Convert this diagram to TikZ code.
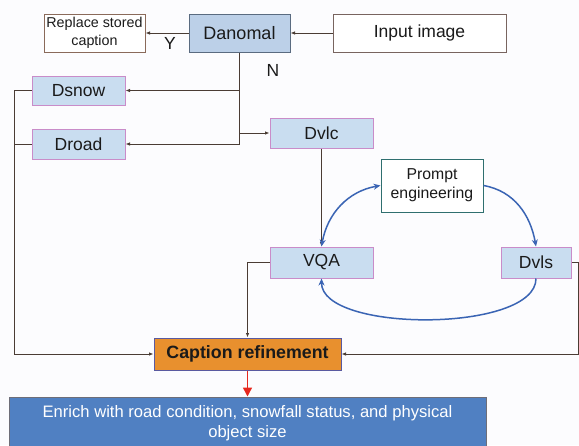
\documentclass[tikz,border=0pt]{standalone}
\usepackage{fontspec}
\setmainfont{Liberation Sans}
\usetikzlibrary{arrows.meta}
\definecolor{bg}{HTML}{FCFCFE}
\definecolor{lblue}{HTML}{C9DDF0}
\definecolor{dblue}{HTML}{BCD0E8}
\definecolor{pinkb}{HTML}{C98CC9}
\definecolor{conn}{HTML}{4A3C34}
\definecolor{arcb}{HTML}{3A64B4}
\definecolor{orng}{HTML}{E8902E}
\definecolor{enrf}{HTML}{5080C2}
\definecolor{txt}{HTML}{1A1A1A}
\definecolor{repb}{HTML}{8A6A5A}
\definecolor{danb}{HTML}{5A6B80}
\definecolor{inpb}{HTML}{78645F}
\definecolor{peb}{HTML}{2F6F6F}
\definecolor{capb}{HTML}{5A5AA0}
\definecolor{enrb}{HTML}{6E6E78}
\definecolor{redarr}{HTML}{E6281E}
\tikzset{
  lbl/.style={font=\fontsize{17.5}{20}\selectfont, text=txt, inner sep=0pt},
  dbox/.style={lbl, draw=pinkb, fill=lblue, line width=1pt},
  wbox/.style={draw, fill=white, line width=1pt, text=txt, inner sep=0pt, align=center},
  conline/.style={draw=conn, line width=1pt},
  conarrow/.style={conline, -{Latex[length=4.5pt,width=3.5pt]}},
  arc/.style={draw=arcb, line width=1.5pt},
}
\begin{document}
\begin{tikzpicture}[x=1pt,y=-1pt]
\useasboundingbox (0,0) rectangle (579,445);
\fill[bg] (0,0) rectangle (579,445);

\node[wbox, draw=repb, font=\fontsize{14.3}{18}\selectfont, minimum width=101pt, minimum height=38pt] (rep) at (94.5,33) {Replace stored\\caption};
\node[lbl, font=\fontsize{18}{20}\selectfont, draw=danb, fill=dblue, line width=1pt, minimum width=101pt, minimum height=38pt] (dan) at (239.5,33) {Danomal};
\node[wbox, draw=inpb, font=\fontsize{17.5}{20}\selectfont, minimum width=173pt, minimum height=38pt] (inp) at (419.5,33) {Input image};

\node[dbox, minimum width=93pt, minimum height=29pt] (dsnow) at (78.5,90.5) {Dsnow};
\node[dbox, minimum width=93pt, minimum height=30pt] (droad) at (78.5,144) {Droad};
\node[dbox, minimum width=103pt, minimum height=30pt] (dvlc) at (321.5,133) {Dvlc};
\node[wbox, draw=peb, font=\fontsize{15.8}{19}\selectfont, minimum width=102pt, minimum height=53pt] (pe) at (432,185.5) {Prompt\\engineering};
\node[dbox, minimum width=103pt, minimum height=31pt] (vqa) at (321.5,262.5) {VQA};
\node[dbox, minimum width=70pt, minimum height=31pt] (dvls) at (536,262.5) {Dvls};
\node[lbl, font=\fontsize{17.8}{20}\selectfont\bfseries, draw=capb, fill=orng, line width=1pt, minimum width=187pt, minimum height=32pt] (cap) at (247.5,354) {Caption refinement};
\node[draw=enrb, fill=enrf, line width=1pt, text=white, align=center, font=\fontsize{16.6}{20.5}\selectfont, minimum width=477pt, minimum height=52pt, inner sep=0pt] (enr) at (247.5,423) {Enrich with road condition, snowfall status, and physical\\object size};

\node[lbl] (ylab) at (170,43) {Y};
\node[lbl] (nlab) at (273,70) {N};

\coordinate (j1) at (239.5,90.5);
\coordinate (j2) at (239.5,133);
\coordinate (j3) at (239.5,144);
\coordinate (l1) at (14,90.5);
\coordinate (l3) at (14,354);
\coordinate (r1) at (578.5,262.5);
\coordinate (r3) at (578.5,354);

\draw[conarrow] (inp.west) -- (dan.east);
\draw[conarrow] (dan.west) -- (rep.east);
\draw[conline] (dan.south) -- (j3);
\draw[conarrow] (j1) -- (dsnow.east);
\draw[conarrow] (j3) -- (droad.east);
\draw[conarrow] (j2) -- (dvlc.west);
\draw[conline] (dsnow.west) -- (l1) -- (l3);
\draw[conline] (droad.west) -- (droad.west -| l1);
\draw[conarrow] (l3) -- (cap.west);
\draw[conarrow] (dvlc.south) -- (vqa.north);
\draw[conarrow] (vqa.west) -| (cap.north);
\draw[conline] (dvls.east) -- (r1) -- (r3);
\draw[conarrow] (r3) -- (cap.east);
\draw[draw=redarr, line width=1.4pt, -{Triangle[length=9pt,width=9pt]}] (cap.south) -- (enr.north);

\draw[arc, {Stealth[length=7pt,width=6pt]}-{Stealth[length=7pt,width=6pt]}] (vqa.north) to[out=80, in=190] (pe.west);
\draw[arc, -{Stealth[length=7pt,width=6pt]}] (pe.east) to[out=-10, in=100] (dvls.north);
\draw[arc, -{Stealth[length=7pt,width=6pt]}] (dvls.south) to[out=-90, in=-90, looseness=0.65] (vqa.south);
\end{tikzpicture}
\end{document}
